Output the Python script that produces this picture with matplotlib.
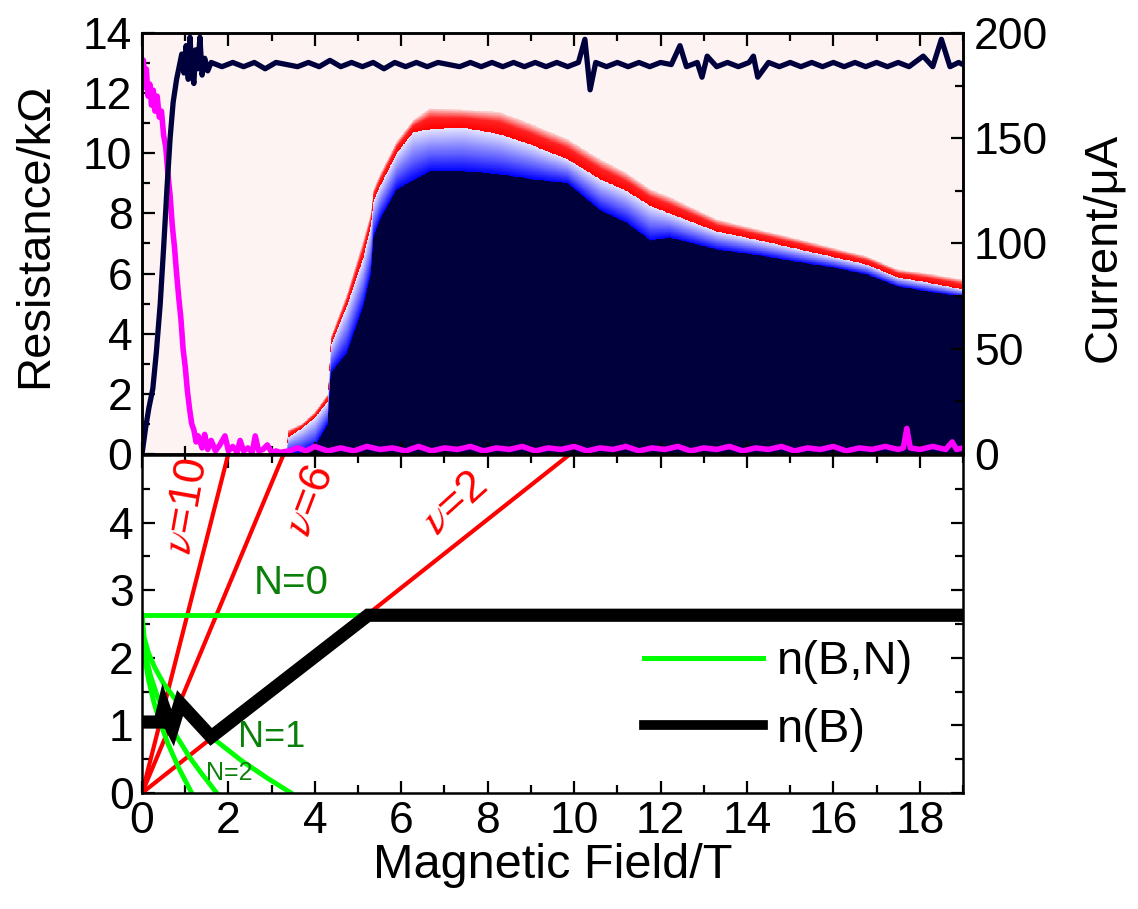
import numpy as np
import matplotlib
matplotlib.use("Agg")
import matplotlib.pyplot as plt
from matplotlib.colors import ListedColormap, to_rgb
from matplotlib.ticker import MultipleLocator
from matplotlib.lines import Line2D

plt.rcParams['font.family'] = ['Liberation Sans', 'DejaVu Sans']
plt.rcParams['mathtext.fontset'] = 'stix'

# ---- top panel: colour map boundaries (kOhm) vs field (T)
B_map = [0.0, 3.33, 3.38, 3.7, 4.0, 4.3, 4.37, 4.74, 5.12, 5.3,
         5.36, 5.51, 5.9, 6.28, 6.67, 7.44, 8.29, 8.98, 9.84, 10.6,
         11.2, 11.76, 12.2, 13.3, 14.3, 15.23, 16.0, 16.78, 17.5, 18.2, 19.0]
R_navy = [0, 0, 0.0, 0.05, 0.25, 1.0, 2.7, 3.35, 4.9, 6.0,
          7.2, 7.8, 8.8, 9.1, 9.4, 9.4, 9.3, 9.15, 9.0, 8.1,
          7.7, 7.1, 7.2, 6.8, 6.6, 6.37, 6.2, 5.97, 5.57, 5.4, 5.23]
R_blue = [0, 0, 0.55, 0.85, 1.2, 1.75, 3.6, 4.9, 6.5, 7.6,
          8.4, 8.9, 10.0, 10.7, 10.8, 10.85, 10.63, 10.3, 9.8, 9.13,
          8.75, 8.25, 8.0, 7.4, 7.1, 6.8, 6.55, 6.3, 5.87, 5.7, 5.47]
R_red = [0, 0, 0.8, 1.0, 1.4, 2.0, 3.9, 5.3, 7.1, 8.0,
         8.8, 9.3, 10.4, 11.1, 11.5, 11.45, 11.37, 11.0, 10.47, 9.8,
         9.35, 8.8, 8.55, 7.8, 7.45, 7.13, 6.85, 6.57, 6.13, 6.0, 5.8]

# resistance trace (kOhm)
B_res = [0.0, 0.03, 0.07, 0.1, 0.14, 0.18, 0.22, 0.26, 0.3, 0.35, 0.4, 0.45, 0.5,
         0.55, 0.6, 0.65, 0.7, 0.75, 0.8, 0.85, 0.9, 0.95, 1.0, 1.05, 1.1, 1.15,
         1.2, 1.25, 1.3, 1.39, 1.45, 1.52, 1.6, 1.7, 1.8, 1.92, 2.0, 2.1, 2.2,
         2.27, 2.35, 2.45, 2.55, 2.62, 2.7, 2.8, 2.9, 3.0, 3.1, 3.2, 3.3, 3.4,
         3.6, 3.8, 4.0, 4.3, 4.6, 4.9, 5.2, 5.5, 5.8, 6.1, 6.4, 6.7, 7.0, 7.3,
         7.6, 7.9, 8.2, 8.5, 8.8, 9.1, 9.4, 9.7, 10.0, 10.3, 10.6, 10.9, 11.2,
         11.5, 11.8, 12.1, 12.4, 12.7, 13.0, 13.3, 13.6, 13.9, 14.2, 14.5, 14.8,
         15.1, 15.4, 15.7, 16.0, 16.3, 16.6, 16.9, 17.2, 17.5, 17.62, 17.7,
         17.78, 18.0, 18.3, 18.6, 18.75, 18.85, 19.0]
R_res = [12.9, 13.1, 12.2, 12.8, 11.9, 12.3, 11.6, 12.1, 11.4, 11.9, 11.2, 11.4, 10.6,
         10.2, 9.3, 8.6, 7.6, 6.9, 6.0, 5.2, 4.5, 3.5, 2.9, 2.1, 1.5, 1.0,
         0.8, 0.4, 0.6, 0.2, 0.65, 0.15, 0.45, 0.1, 0.3, 0.6, 0.1, 0.25, 0.05,
         0.45, 0.1, 0.2, 0.05, 0.6, 0.1, 0.15, 0.3, 0.05, 0.1, 0.05, 0.08, 0.1,
         0.2, 0.1, 0.25, 0.1, 0.2, 0.1, 0.25, 0.15, 0.2, 0.1, 0.25, 0.1, 0.2, 0.15,
         0.25, 0.1, 0.2, 0.15, 0.25, 0.1, 0.2, 0.15, 0.25, 0.1, 0.2, 0.15, 0.25,
         0.1, 0.2, 0.15, 0.25, 0.1, 0.2, 0.15, 0.25, 0.1, 0.2, 0.15, 0.25,
         0.1, 0.2, 0.15, 0.25, 0.1, 0.2, 0.15, 0.25, 0.15, 0.2, 0.85,
         0.2, 0.15, 0.25, 0.15, 0.4, 0.15, 0.2]

# current trace (uA)
B_cur = [0.0, 0.08, 0.16, 0.25, 0.33, 0.42, 0.5, 0.58, 0.65, 0.72, 0.8, 0.86,
         0.92, 0.97, 1.02, 1.07, 1.11, 1.16, 1.2, 1.24, 1.29, 1.34, 1.39, 1.45,
         1.52, 1.6, 1.85, 2.1, 2.35, 2.6, 2.85, 3.1, 3.35, 3.6, 3.85, 4.1, 4.35,
         4.6, 4.85, 5.1, 5.35, 5.6, 5.85, 6.1, 6.35, 6.6, 6.85, 7.1, 7.35, 7.6,
         7.85, 8.1, 8.35, 8.6, 8.85, 9.1, 9.35, 9.6, 9.85, 10.1, 10.25, 10.37,
         10.5, 10.75, 11.0, 11.25, 11.5, 11.75, 12.0, 12.25, 12.45, 12.6, 12.85,
         12.96, 13.08, 13.3, 13.55, 13.8, 14.05, 14.15, 14.25, 14.5, 14.75, 15.0,
         15.25, 15.5, 15.75, 16.0, 16.25, 16.5, 16.75, 17.0, 17.25, 17.5, 17.75,
         18.08, 18.3, 18.5, 18.7, 18.9, 19.0]
I_cur = [0, 12, 22, 31, 48, 71, 98, 127, 150, 167, 178, 184,
         190, 181, 194, 178, 198, 181, 176, 192, 183, 198, 180, 188,
         182, 186, 184, 186, 184, 186, 183, 186, 185, 184, 186, 184, 187,
         184, 186, 184, 186, 183, 186, 184, 186, 184, 186, 185, 184, 186,
         184, 186, 184, 186, 184, 186, 184, 186, 184, 186, 197, 173,
         186, 184, 186, 184, 186, 184, 186, 185, 194, 184, 186,
         179, 189, 184, 186, 184, 186, 189, 179, 186, 184, 186,
         184, 186, 184, 186, 184, 186, 184, 186, 184, 186, 184,
         189, 184, 197, 184, 186, 185]

# ---- bottom panel
nu_vals = [10, 6, 2]
nu_B_top = [1.99, 3.27, 9.88]        # field where each filling line reaches n = 5
nu_label_pos = [(1.04, 4.24), (3.89, 4.32), (7.25, 4.28)]
nu_label_rot = [80, 69, 42]

N0_B = [0.0, 5.1]
N0_n = [2.63, 2.63]
N1_B = [0.0, 0.05, 0.15, 0.3, 0.5, 0.8, 1.2, 1.7, 2.3, 2.9, 3.45]
N1_n = [2.63, 2.30, 2.07, 1.85, 1.62, 1.36, 1.08, 0.78, 0.48, 0.22, 0.0]
N2_B = [0.0, 0.03, 0.1, 0.2, 0.35, 0.55, 0.8, 1.1, 1.4, 1.73]
N2_n = [2.63, 2.28, 1.99, 1.73, 1.44, 1.14, 0.84, 0.53, 0.27, 0.0]
N3_B = [0.0, 0.02, 0.07, 0.15, 0.27, 0.42, 0.6, 0.85, 1.15]
N3_n = [2.63, 2.28, 1.97, 1.68, 1.35, 1.04, 0.73, 0.37, 0.0]

nB_B = [0.0, 0.42, 0.5, 0.62, 0.7, 0.78, 0.88, 1.6, 5.23, 19.0]
nB_n = [1.05, 1.05, 1.27, 1.05, 0.95, 1.12, 1.33, 0.83, 2.63, 2.63]

navy = '#00003c'
pink_bg = '#fdf3f3'

fig = plt.figure(figsize=(11.38, 9.09), dpi=100)
ax = fig.add_axes([0.1248, 0.5006, 0.7214, 0.4631])
axb = fig.add_axes([0.1248, 0.1276, 0.7214, 0.3718], sharex=ax)

# colour map field built from the boundary lists
def ramp(c1, c2, n):
    return np.linspace(to_rgb(c1), to_rgb(c2), n)

cmap = ListedColormap(np.vstack([ramp(navy, navy, 100),
                                 ramp('#0000ff', '#6a6aff', 45),
                                 ramp('#6a6aff', '#e4e4ff', 55),
                                 ramp('#ff0000', '#ff2020', 50),
                                 ramp('#ff2020', '#fcd8d8', 45),
                                 ramp(pink_bg, pink_bg, 5)]))
Bg = np.linspace(0, 19, 820)
Rg = np.linspace(0, 14, 600)
lo = np.interp(Bg, B_map, R_navy)[None, :]
mid = np.interp(Bg, B_map, R_blue)[None, :]
hi = np.interp(Bg, B_map, R_red)[None, :]
R2 = Rg[:, None]
Z = np.where(R2 < lo, 0.5,
     np.where(R2 < mid, 1 + (R2 - lo) / np.maximum(mid - lo, 1e-6),
     np.where(R2 < hi, 2 + 0.95 * (R2 - mid) / np.maximum(hi - mid, 1e-6), 3)))
Z = np.clip(Z, 0, 3)
ax.set_facecolor(pink_bg)
ax.pcolormesh(Bg, Rg, Z, cmap=cmap, vmin=0, vmax=3, shading='nearest',
              rasterized=True)

ax.plot(B_res, R_res, color='#ff00ff', lw=4)
ax.set_xlim(0, 19)
ax.set_ylim(0, 14)

axr = ax.twinx()
axr.plot(B_cur, I_cur, color=navy, lw=3.8)
axr.set_ylim(0, 200)

# bottom panel lines
for nu, bt in zip(nu_vals, nu_B_top):
    axb.plot([0, bt], [0, 5.0], color='#ff0000', lw=3)
for (bx, by), rot, nu in zip(nu_label_pos, nu_label_rot, nu_vals):
    axb.text(bx, by, r'$\nu$=%d' % nu, color='#ff0000', fontsize=32,
             rotation=rot, ha='center', va='center')

green = '#00ff00'
axb.plot(N0_B, N0_n, color=green, lw=3.5)
axb.plot(N1_B, N1_n, color=green, lw=3.5)
axb.plot(N2_B, N2_n, color=green, lw=3.5)
axb.plot(N3_B, N3_n, color=green, lw=3.5)
axb.plot(nB_B, nB_n, color='black', lw=9.5, solid_joinstyle='miter',
         solid_capstyle='butt')

dkgreen = '#0a800a'
axb.text(3.45, 3.1, 'N=0', color=dkgreen, fontsize=29, ha='center', va='center')
axb.text(3.0, 0.82, 'N=1', color=dkgreen, fontsize=26, ha='center', va='center')
axb.text(2.03, 0.29, 'N=2', color=dkgreen, fontsize=18, ha='center', va='center')
axb.set_ylim(0, 5)

handles = [Line2D([], [], color=green, lw=3.6), Line2D([], [], color='black', lw=7)]
axb.legend(handles, ['n(B,N)', 'n(B)'], loc='upper left',
           bbox_to_anchor=(0.612, 0.452), frameon=False, fontsize=34,
           borderaxespad=0, borderpad=0, handlelength=2.5,
           handletextpad=0.3, labelspacing=0.5)

# axes styling
for a in (ax, axr, axb):
    for sp in a.spines.values():
        sp.set_linewidth(1.8)

ax.xaxis.set_major_locator(MultipleLocator(2))
ax.xaxis.set_minor_locator(MultipleLocator(1))
ax.yaxis.set_major_locator(MultipleLocator(2))
ax.yaxis.set_minor_locator(MultipleLocator(1))
ax.tick_params(which='both', direction='in', top=True, bottom=True,
               right=False, labelbottom=False, labelsize=32, width=1.6, pad=7)
ax.tick_params(which='major', length=9)
ax.tick_params(which='minor', length=6)

axr.yaxis.set_major_locator(MultipleLocator(50))
axr.yaxis.set_minor_locator(MultipleLocator(25))
axr.tick_params(which='both', direction='in', labelsize=32, width=1.6, pad=8)
axr.tick_params(which='major', length=9)
axr.tick_params(which='minor', length=6)

axb.set_yticks([0, 1, 2, 3, 4])
axb.yaxis.set_minor_locator(MultipleLocator(0.5))
axb.tick_params(which='both', direction='in', top=True, right=True,
                labelsize=32, width=1.6, pad=6)
axb.tick_params(which='major', length=9)
axb.tick_params(which='minor', length=6)

ax.set_ylabel('Resistance/k\u03a9', fontsize=34)
ax.yaxis.set_label_coords(-0.104, 0.52)
axr.set_ylabel('Current/\u03bcA', fontsize=34)
axr.yaxis.set_label_coords(1.144, 0.49)
axb.set_xlabel('Magnetic Field/T', fontsize=35)
axb.xaxis.set_label_coords(0.5, -0.148)

fig.savefig('out.png', dpi=100)
